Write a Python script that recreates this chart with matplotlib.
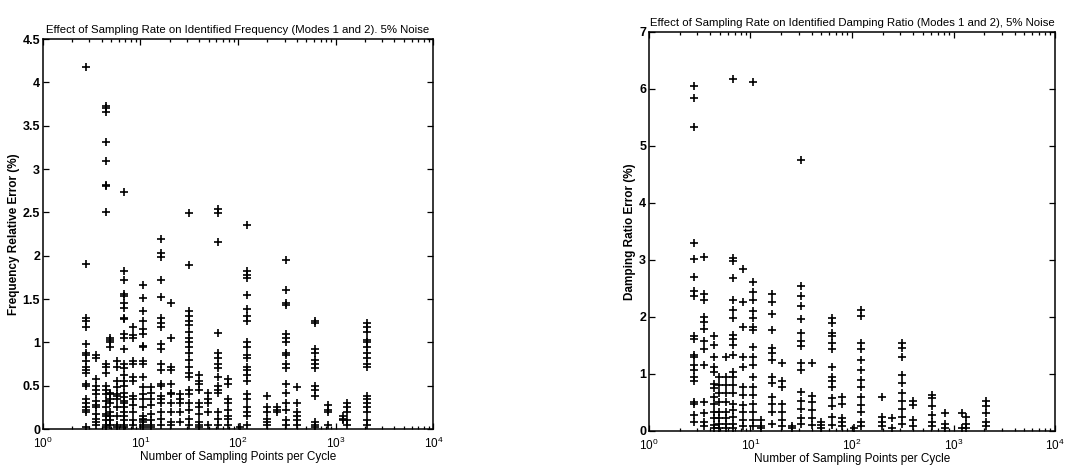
import numpy as np
import matplotlib
matplotlib.use("Agg")
import matplotlib.pyplot as plt
from matplotlib.ticker import LogLocator, NullFormatter

plt.rcParams['font.family'] = ['Liberation Sans', 'DejaVu Sans']
plt.rcParams['mathtext.fontset'] = 'custom'
plt.rcParams['mathtext.rm'] = 'Liberation Sans'

# sampling points per cycle (one column of marks per value)
cols = [2.75, 3.5, 4.4, 4.9, 5.7, 6.8, 8.4, 10.7, 12.8, 16.2, 20.5, 25.4,
        31.7, 40, 49.6, 63, 79.5, 105, 124, 197, 250, 310, 400, 617, 830,
        1200, 1320, 2090]

# frequency relative error (%), per column
freq_err = [
    [4.18, 1.9, 1.28, 1.25, 1.18, 0.98, 0.88, 0.85, 0.78, 0.72, 0.68, 0.65, 0.52, 0.5, 0.35, 0.3, 0.25, 0.22, 0.2, 0.02],
    [0.85, 0.82, 0.58, 0.5, 0.45, 0.4, 0.32, 0.28, 0.25, 0.18, 0.12, 0.08, 0.05],
    [3.73, 3.7, 3.66, 3.31, 3.09, 2.82, 2.8, 2.51, 0.75, 0.72, 0.65, 0.5, 0.45, 0.4, 0.32, 0.25, 0.18, 0.15, 0.1, 0.05, 0.02],
    [1.05, 1.03, 1.0, 0.95, 0.42, 0.4, 0.35, 0.3, 0.2, 0.15, 0.1, 0.05],
    [0.78, 0.72, 0.55, 0.48, 0.4, 0.38, 0.35, 0.25, 0.15, 0.05, 0.02],
    [2.74, 1.82, 1.72, 1.56, 1.54, 1.45, 1.4, 1.28, 1.27, 1.1, 1.05, 0.92, 0.75, 0.7, 0.62, 0.55, 0.5, 0.42, 0.37, 0.33, 0.3, 0.25, 0.2, 0.15, 0.1, 0.05, 0.02],
    [1.18, 1.08, 1.05, 0.78, 0.75, 0.6, 0.55, 0.38, 0.35, 0.28, 0.2, 0.1, 0.05],
    [1.66, 1.51, 1.36, 1.25, 1.15, 1.1, 0.96, 0.95, 0.78, 0.75, 0.6, 0.48, 0.4, 0.35, 0.25, 0.15, 0.12, 0.1, 0.08, 0.05, 0.02],
    [0.48, 0.42, 0.35, 0.28, 0.18, 0.1, 0.05, 0.02],
    [2.19, 2.03, 1.98, 1.72, 1.52, 1.28, 1.22, 1.18, 0.98, 0.92, 0.75, 0.68, 0.52, 0.5, 0.38, 0.35, 0.3, 0.2, 0.12, 0.05],
    [1.45, 1.05, 0.72, 0.68, 0.52, 0.42, 0.4, 0.3, 0.2, 0.08, 0.05],
    [0.4, 0.35, 0.3, 0.2, 0.08],
    [2.49, 1.89, 1.36, 1.3, 1.25, 1.2, 1.12, 1.05, 1.0, 0.95, 0.88, 0.8, 0.72, 0.65, 0.6, 0.45, 0.4, 0.3, 0.22, 0.12, 0.05],
    [0.62, 0.55, 0.52, 0.45, 0.3, 0.25, 0.18, 0.08, 0.05, 0.02],
    [0.42, 0.35, 0.3, 0.2, 0.05],
    [2.54, 2.49, 2.16, 1.11, 0.88, 0.82, 0.75, 0.7, 0.6, 0.5, 0.45, 0.42, 0.2, 0.12, 0.05],
    [0.58, 0.52, 0.35, 0.3, 0.22, 0.15, 0.12, 0.05],
    [0.02],
    [2.35, 1.82, 1.78, 1.74, 1.55, 1.38, 1.3, 1.25, 1.0, 0.95, 0.85, 0.82, 0.72, 0.68, 0.62, 0.55, 0.4, 0.35, 0.25, 0.2, 0.15, 0.05],
    [0.38, 0.25, 0.2, 0.12, 0.08, 0.05],
    [0.25, 0.22, 0.2],
    [1.95, 1.6, 1.45, 1.43, 1.1, 1.05, 1.0, 0.88, 0.85, 0.75, 0.7, 0.52, 0.42, 0.3, 0.22, 0.1, 0.05],
    [0.48, 0.3, 0.2, 0.15, 0.1, 0.05],
    [1.25, 1.22, 0.92, 0.88, 0.8, 0.75, 0.7, 0.5, 0.45, 0.38, 0.08, 0.05, 0.02],
    [0.28, 0.22, 0.2, 0.05],
    [0.15, 0.12, 0.1],
    [0.3, 0.25, 0.2, 0.1, 0.05],
    [1.22, 1.18, 1.12, 1.03, 1.0, 0.95, 0.88, 0.82, 0.75, 0.72, 0.38, 0.35, 0.3, 0.25, 0.2, 0.1, 0.05],
]

# damping ratio error (%), per column
damp_err = [
    [5.85, 6.05, 5.33, 3.30, 3.01, 2.71, 2.46, 2.36, 1.67, 1.62, 1.33, 1.30, 1.16, 1.07, 0.95, 0.87, 0.51, 0.48, 0.28, 0.16],
    [3.06, 2.41, 2.29, 2.0, 1.92, 1.79, 1.57, 1.43, 1.16, 0.51, 0.31, 0.16, 0.08],
    [1.67, 1.51, 1.29, 1.13, 1.04, 0.82, 0.75, 0.6, 0.48, 0.34, 0.22, 0.1, 0.05],
    [0.95, 0.81, 0.66, 0.51, 0.34, 0.22, 0.13, 0.05],
    [1.3, 0.95, 0.81, 0.66, 0.51, 0.34, 0.22, 0.13, 0.05],
    [6.18, 3.04, 2.98, 2.68, 2.29, 2.12, 1.99, 1.68, 1.62, 1.51, 1.33, 1.04, 0.95, 0.81, 0.66, 0.48, 0.37, 0.25, 0.13, 0.05],
    [2.84, 2.26, 1.83, 1.3, 1.13, 0.78, 0.63, 0.46, 0.34, 0.19, 0.08],
    [6.12, 2.62, 2.44, 2.29, 2.11, 1.99, 1.83, 1.77, 1.47, 1.29, 1.16, 0.95, 0.78, 0.63, 0.48, 0.34, 0.19, 0.08],
    [0.19, 0.08, 0.05],
    [2.41, 2.26, 2.06, 1.77, 1.45, 1.36, 1.24, 0.95, 0.84, 0.6, 0.48, 0.34, 0.13],
    [1.19, 0.87, 0.78, 0.48, 0.34, 0.19, 0.08],
    [0.08, 0.05],
    [4.76, 2.54, 2.36, 2.2, 1.96, 1.72, 1.57, 1.49, 1.19, 1.07, 0.69, 0.53, 0.39, 0.22, 0.13],
    [1.19, 0.61, 0.51, 0.37, 0.22, 0.1],
    [0.16, 0.1, 0.05],
    [1.98, 1.89, 1.72, 1.66, 1.55, 1.43, 1.13, 0.95, 0.87, 0.77, 0.58, 0.43, 0.25, 0.1],
    [0.6, 0.48, 0.22, 0.16, 0.08],
    [0.05],
    [2.12, 2.01, 1.54, 1.44, 1.24, 1.07, 0.9, 0.78, 0.6, 0.46, 0.34, 0.16, 0.08],
    [0.6, 0.25, 0.16, 0.08],
    [0.22, 0.05],
    [1.55, 1.45, 1.29, 0.98, 0.85, 0.67, 0.53, 0.39, 0.25, 0.13],
    [0.53, 0.46, 0.19, 0.08],
    [0.63, 0.58, 0.43, 0.28, 0.16, 0.08],
    [0.31, 0.13, 0.05],
    [0.31, 0.05],
    [0.25, 0.13, 0.05],
    [0.52, 0.43, 0.31, 0.16, 0.08],
]

fig = plt.figure(figsize=(10.7, 4.7), dpi=100)
ax1 = fig.add_axes([0.040, 0.087, 0.365, 0.830])
ax2 = fig.add_axes([0.6065, 0.083, 0.3795, 0.849])


def draw(ax, vals, ymax, yticks, title, ylabel):
    for xc, ys in zip(cols, vals):
        ax.plot([xc] * len(ys), ys, '+', color='black', ms=6, mew=1.2)
    ax.set_xscale('log')
    ax.set_xlim(1, 1e4)
    ax.set_ylim(0, ymax)
    ax.set_yticks(yticks)
    ax.set_yticklabels(['%g' % t for t in yticks], fontweight='bold', fontsize=9)
    ax.xaxis.set_major_locator(LogLocator(base=10, numticks=10))
    ax.xaxis.set_minor_locator(LogLocator(base=10, subs=np.arange(2, 10), numticks=50))
    ax.xaxis.set_minor_formatter(NullFormatter())
    ax.tick_params(which='both', direction='in', top=True, right=True,
                   labelsize=8.5, width=0.9)
    ax.tick_params(axis='x', pad=5)
    ax.tick_params(axis='y', labelsize=9, pad=2)
    ax.tick_params(which='major', length=4)
    ax.tick_params(which='minor', length=2)
    for s in ax.spines.values():
        s.set_linewidth(1.1)
    ax.set_title(title, fontsize=8.2, pad=4)
    ax.set_xlabel('Number of Sampling Points per Cycle', fontsize=8.5, labelpad=0)
    ax.set_ylabel(ylabel, fontsize=8.5, fontweight='bold', labelpad=2)


draw(ax1, freq_err, 4.5, [0, 0.5, 1, 1.5, 2, 2.5, 3, 3.5, 4, 4.5],
     'Effect of Sampling Rate on Identified Frequency (Modes 1 and 2). 5% Noise',
     'Frequency Relative Error (%)')
draw(ax2, damp_err, 7, [0, 1, 2, 3, 4, 5, 6, 7],
     'Effect of Sampling Rate on Identified Damping Ratio (Modes 1 and 2), 5% Noise',
     'Damping Ratio Error (%)')

fig.savefig('out.png', dpi=100)
